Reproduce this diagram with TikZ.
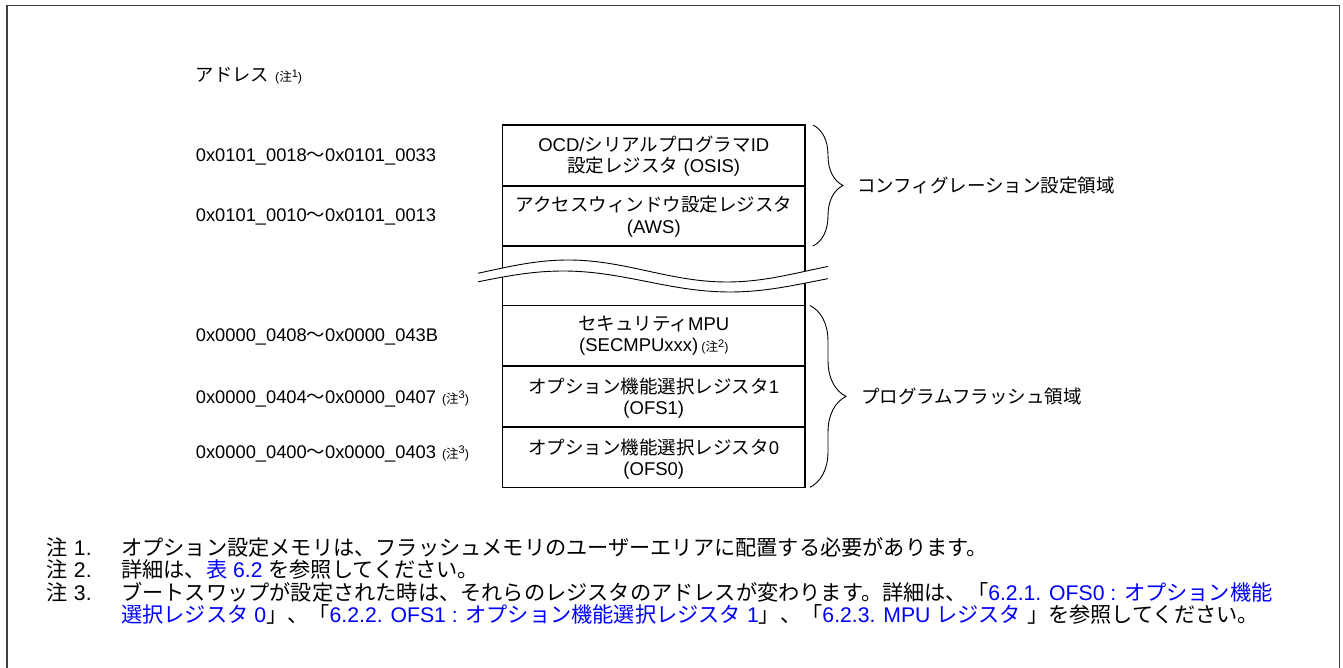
\documentclass[tikz,border=0pt]{standalone}
\usepackage{fontspec}
\setmainfont{Liberation Sans}
\newfontfamily\jp{Noto Sans CJK JP}
\usetikzlibrary{decorations.pathreplacing}
\newcommand\J[1]{{\jp #1}}
\newcommand\chu[1]{{\fontsize{12.5}{12.5}\selectfont(\J{注}\raisebox{4.5pt}{\fontsize{11}{11}\selectfont #1})}}
\begin{document}
\begin{tikzpicture}[x=1pt,y=-1pt,
  boxtxt/.style={font=\fontsize{18.5}{21.5}\selectfont, align=center, inner sep=0pt},
  addr/.style={font=\fontsize{18.3}{22}\selectfont, anchor=base west, inner sep=0pt},
  sidetxt/.style={font=\fontsize{18.5}{22}\selectfont, anchor=west, inner sep=0pt},
  notetxt/.style={font=\fontsize{21.2}{24}\selectfont, anchor=base west, inner sep=0pt},
  regline/.style={line width=1.3pt},
  waveline/.style={line width=0.9pt},
  bracestyle/.style={decorate, decoration={brace, amplitude=#1}, line width=0.9pt}]
\useasboundingbox (0,0) rectangle (1343,668);
\clip (0,0) rectangle (1343,668);
\draw[line width=1.6pt, black!75] (6.7,720) -- (6.7,5.7) -- (1339.5,5.7) -- (1339.5,720);
% register stack
\draw[regline] (502.7,125) rectangle (805,487.3);
\foreach \yy in {186,246,305.5,366,427} \draw[regline] (502.7,\yy) -- (805,\yy);
% break
\fill[white] plot[domain=478:828,samples=60] (\x,{271-11*cos((\x-568)/318*360)})
  -- plot[domain=828:478,samples=60] (\x,{281.5-10.5*cos((\x-563)/334*360)}) -- cycle;
\draw[waveline] plot[domain=478:828,samples=60] (\x,{271-11*cos((\x-568)/318*360)});
\draw[waveline] plot[domain=478:828,samples=60] (\x,{281.5-10.5*cos((\x-563)/334*360)});
% braces
\draw[bracestyle=30pt] (813,125) -- (813,246);
\draw[bracestyle=36pt] (810,305.5) -- (810,487.3);
\node[sidetxt] (cfg) at (857,186) {\J{コンフィグレーション設定領域}};
\node[sidetxt] (pf) at (861,396) {\J{プログラムフラッシュ領域}};
% box texts
\node[boxtxt] (osis) at (653.8,156) {OCD/\J{シリアルプログラマ}ID\\\J{設定レジスタ} (OSIS)};
\node[boxtxt] (aws) at (653.8,216.5) {\J{アクセスウィンドウ設定レジスタ}\\(AWS)};
\node[boxtxt] (sec) at (653.8,335.5) {\J{セキュリティ}MPU\\(SECMPUxxx)\,\chu{2}};
\node[boxtxt] (ofs1) at (653.8,398) {\J{オプション機能選択レジスタ}1\\(OFS1)};
\node[boxtxt] (ofs0) at (653.8,459) {\J{オプション機能選択レジスタ}0\\(OFS0)};
% addresses
\node[addr] (a0) at (195.7,82) {\J{アドレス}\hspace{6pt}\chu{1}};
\node[addr] (a1) at (195.7,161.5) {0x0101\_0018\J{～}0x0101\_0033};
\node[addr] (a2) at (195.7,221.5) {0x0101\_0010\J{～}0x0101\_0013};
\node[addr] (a3) at (195.7,341.5) {0x0000\_0408\J{～}0x0000\_043B};
\node[addr] (a4) at (195.7,403) {0x0000\_0404\J{～}0x0000\_0407\hspace{6pt}\chu{3}};
\node[addr] (a5) at (195.7,458) {0x0000\_0400\J{～}0x0000\_0403\hspace{6pt}\chu{3}};
% notes
\node[notetxt] (n1l) at (46.7,555) {\J{注} 1.};
\node[notetxt] (n1) at (121,555) {\J{オプション設定メモリは、フラッシュメモリのユーザーエリアに配置する必要があります。}};
\node[notetxt] (n2l) at (46.7,577.5) {\J{注} 2.};
\node[notetxt] (n2) at (121,577.5) {\J{詳細は、}\textcolor{blue}{\J{表} 6.2} \J{を参照してください。}};
\node[notetxt] (n3l) at (46.7,600) {\J{注} 3.};
\node[notetxt] (n3) at (121,600) {\J{ブートスワップが設定された時は、それらのレジスタのアドレスが変わります。詳細は、「}\textcolor{blue}{6.2.1. OFS0 : \J{オプション機能}}};
\node[notetxt] (n3b) at (121,622.5) {\textcolor{blue}{\J{選択レジスタ} 0}\J{」、「}\textcolor{blue}{6.2.2. OFS1 : \J{オプション機能選択レジスタ} 1}\J{」、「}\textcolor{blue}{6.2.3. MPU \J{レジスタ}} \J{」を参照してください。}};
\end{tikzpicture}
\end{document}
